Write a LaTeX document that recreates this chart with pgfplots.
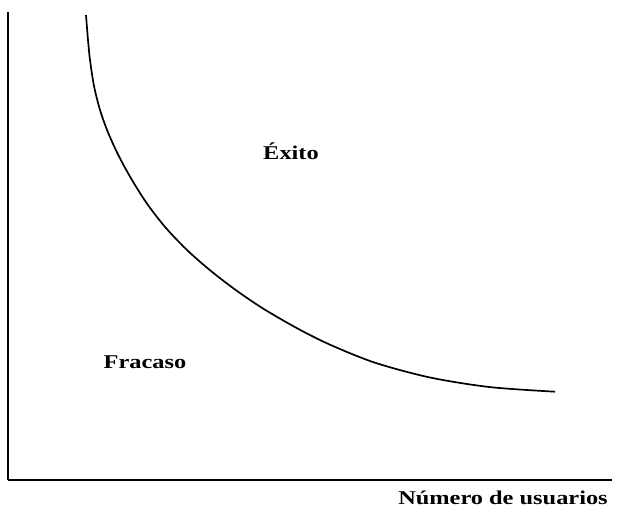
\documentclass[border=0pt]{standalone}
\usepackage{fontspec}
\setmainfont[FakeStretch=1.25]{Liberation Serif}
\usepackage{pgfplots}
\pgfplotsset{compat=1.18}
\begin{document}
\begin{tikzpicture}
\begin{axis}[
  x=1bp, y=1bp,
  xmin=8, xmax=612, ymin=0, ymax=468,
  axis x line=bottom, axis y line=left,
  axis line style={-, line width=1.4bp},
  xtick=\empty, ytick=\empty,
  clip=false,
]
\addplot[black, line width=1.7bp, smooth, tension=0.5] coordinates {
(86,465) (88,440) (90,420) (94,394) (100,370) (108,347.6) (118,325.6)
(130,303.4) (146,277.8) (165,253.1) (187,230) (210,209.8) (235,190.5)
(263,171.5) (297,151.8) (330,135.3) (375,117.3) (430,102.5) (490,92.9) (555,88.3)
};
\node[anchor=base, inner sep=0pt, font=\fontsize{19.5bp}{23bp}\selectfont\bfseries] at (axis cs:291,320) {Éxito};
\node[anchor=base, inner sep=0pt, font=\fontsize{19.5bp}{23bp}\selectfont\bfseries] at (axis cs:145,111) {Fracaso};
\node[anchor=base, inner sep=0pt, font=\fontsize{19.5bp}{23bp}\selectfont\bfseries] at (axis cs:503,-25) {Número de usuarios};
\path (axis cs:0,-37) rectangle (axis cs:622,480);
\end{axis}
\end{tikzpicture}
\end{document}
